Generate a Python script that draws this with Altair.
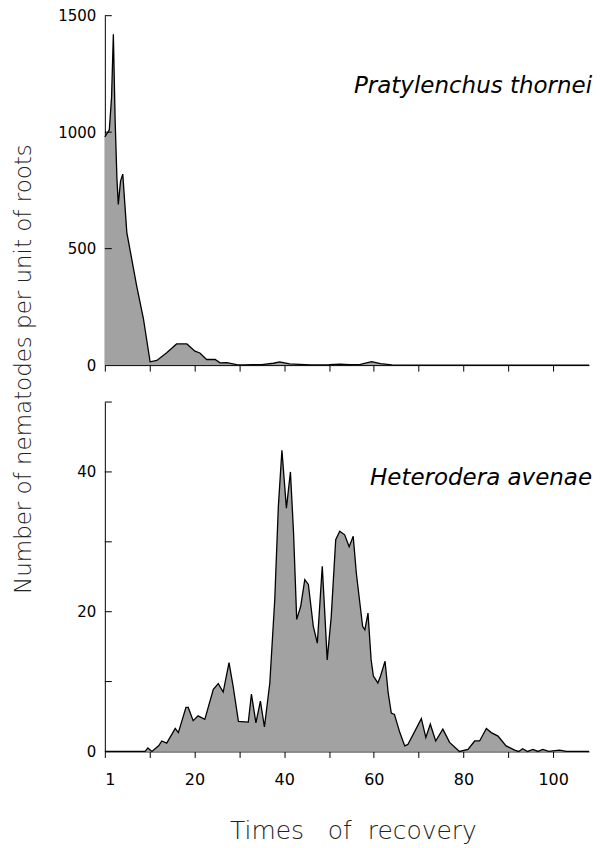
import altair as alt
import pandas as pd

# ---- data ----
# Pratylenchus thornei (top panel)
top_x = [0, 1.0, 1.5, 1.9, 2.3, 2.7, 3.0, 3.5, 4.0, 4.9, 7.1, 8.6, 10.1, 11.6, 13.8,
         16.0, 18.3, 20.1, 21.2, 22.7, 24.6, 25.7, 27.2, 29.4, 31.0, 33.0, 35.0, 37.6,
         39.0, 41.2, 43.4, 46.0, 50.0, 52.5, 54.6, 57.0, 59.5, 61.5, 64.0, 70.0, 78.0,
         90.0, 100.0, 108.0]
top_y = [980, 1010, 1150, 1420, 1050, 800, 690, 790, 820, 570, 340, 200, 14, 20, 53,
         91, 91, 60, 52, 24, 24, 10, 11, 2, 1, 2, 2, 8,
         14, 5, 3, 1, 2, 4, 2, 3, 15, 6, 1, 0, 0,
         0, 0, 0]

# Heterodera avenae (bottom panel)
bot_x = [0, 9.0, 9.6, 10.5, 12.0, 12.7, 13.8, 15.7, 16.4, 18.1,
         18.6, 19.7, 20.8, 22.3, 24.2, 25.3, 26.4, 27.7, 28.6, 29.8,
         32.0, 32.7, 33.7, 34.7, 35.6, 36.8, 37.9, 38.7, 39.5, 40.5,
         41.4, 42.1, 42.8, 43.7, 44.6, 45.4, 46.5, 47.4, 48.5, 49.1,
         49.6, 50.5, 51.5, 52.4, 53.5, 54.5, 55.4, 56.1, 57.5, 58.0,
         58.7, 59.4, 59.9, 60.9, 61.5, 62.5, 63.2, 63.9, 64.6, 65.8,
         66.9, 67.6, 70.6, 71.6, 72.6, 73.8, 75.4, 76.9, 79.1, 81.0,
         82.5, 83.6, 85.1, 86.2, 87.7, 89.5, 91.4, 92.3, 93.2, 94.3,
         95.5, 96.6, 97.7, 99.0, 101.4, 103.0, 108.0]
bot_y = [0, 0, 0.5, 0, 0.8, 1.5, 1.2, 3.3, 2.7, 6.3,
         6.3, 4.4, 5.1, 4.6, 8.9, 9.7, 8.5, 12.7, 9.4, 4.3,
         4.2, 8.2, 4.1, 7.2, 3.5, 9.8, 21.7, 35, 43.1, 34.8,
         40, 31.2, 18.9, 20.8, 24.6, 23.9, 17.9, 15.5, 26.5, 19.3,
         13.1, 19.3, 30.3, 31.5, 31, 29.3, 30.8, 25.5, 17.9, 17.4,
         19.8, 13.1, 10.8, 9.8, 10.8, 12.9, 8.4, 5.5, 5.3, 2.7,
         0.8, 1, 4.7, 2, 3.9, 1.5, 3.2, 1.3, 0, 0.3,
         1.5, 1.5, 3.3, 2.7, 2.2, 0.8, 0.2, 0, 0.4, 0,
         0.3, 0, 0.3, 0, 0.2, 0, 0]

top_yticks = [500, 1000, 1500]
top_ylabels = [0, 500, 1000, 1500]
bot_yticks = [10, 20, 30, 40, 50]
bot_ylabels = [0, 20, 40]
x_ticks = [0, 10, 20, 30, 40, 50, 60, 70, 80, 90, 100]

top_name = "Pratylenchus thornei"
bot_name = "Heterodera avenae"
y_title = "Number of nematodes per unit of roots"
x_title = "Times\u00a0\u00a0\u00a0of\u00a0\u00a0recovery"

FONT = "DejaVu Sans"
W, H = 485, 350
FILL = "#a2a2a2"


def panel(xs, ys, ymax, yticks, ylabels, name, name_y, show_xlabels, extra=None):
    df = pd.DataFrame({"x": xs, "v": ys})
    xsc = alt.Scale(domain=[0, 108], nice=False, zero=False)
    ysc = alt.Scale(domain=[0, ymax], nice=False)
    xaxis = alt.Axis(
        values=x_ticks, ticks=True, tickSize=6, labels=show_xlabels,
        labelExpr="datum.value == 0 ? '1' : (datum.value % 20 == 0 ? datum.label : '')",
        labelPadding=14, labelFontSize=16, labelFont=FONT, labelColor="black",
        domainColor="black", tickColor="black", grid=False, title=None,
    )
    yaxis = alt.Axis(
        values=ylabels, ticks=False, labelPadding=9, labelFontSize=15, format="d",
        labelFont=FONT, labelColor="black", domainColor="black", grid=False,
        title=None,
    )
    area = alt.Chart(df).mark_area(
        color=FILL, opacity=1, interpolate="linear",
        line={"color": "black", "strokeWidth": 1.3},
    ).encode(
        x=alt.X("x:Q", scale=xsc, axis=xaxis),
        y=alt.Y("v:Q", scale=ysc, axis=yaxis),
    )
    ticks = alt.Chart(pd.DataFrame({"v": yticks})).mark_rule(
        color="black", strokeWidth=1
    ).encode(
        y=alt.Y("v:Q"),
        x=alt.value(0), x2=alt.value(7),
    )
    label = alt.Chart(pd.DataFrame({"name": [name]})).mark_text(
        align="right", baseline="middle", font=FONT, fontStyle="italic",
        fontSize=23, color="black",
    ).encode(x=alt.value(488), y=alt.value(name_y), text="name:N")
    layers = [area, ticks, label]
    if extra is not None:
        layers.append(extra)
    return alt.layer(*layers).properties(width=W, height=H)


ytitle = alt.Chart(pd.DataFrame({"t": [y_title]})).mark_text(
    angle=270, align="center", baseline="middle", font=FONT, fontSize=23,
    fontWeight=200, color="#222222",
).encode(x=alt.value(-81), y=alt.value(354), text="t:N")

xtitle = alt.Chart(pd.DataFrame({"t": [x_title]})).mark_text(
    align="center", baseline="middle", font=FONT, fontSize=25,
    fontWeight=200, color="#222222",
).encode(x=alt.value(249), y=alt.value(430), text="t:N")

top = panel(top_x, top_y, 1500, top_yticks, top_ylabels, top_name, 70, False, ytitle)
bot = panel(bot_x, bot_y, 50, bot_yticks, bot_ylabels, bot_name, 76, True, xtitle)

chart = alt.vconcat(top, bot, spacing=37, bounds="flush").properties(
    padding={"left": 5, "top": 0, "right": 5, "bottom": 5}
).configure_view(stroke=None).configure_axis(domainWidth=1, tickWidth=1)

chart.save("out.html", embed_options={"renderer": "svg", "actions": False})
